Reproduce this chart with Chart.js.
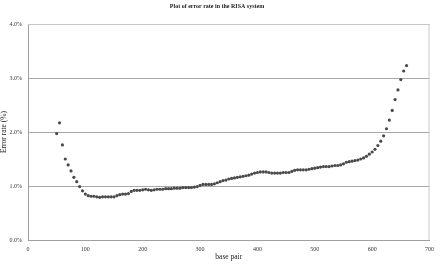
<!DOCTYPE html>
<html>
<head>
<meta charset="utf-8">
<script src="https://cdn.jsdelivr.net/npm/chart.js@4"></script>
<style>
  html, body { margin: 0; padding: 0; background: #fff; }
  #chart { display: block; }
</style>
</head>
<body>
<canvas id="chart" width="440" height="265"></canvas>
<script>
const basePair = [
  50, 55, 60, 65, 70, 75, 80, 85, 90, 95,
  100, 105, 110, 115, 120, 125, 130, 135, 140, 145,
  150, 155, 160, 165, 170, 175, 180, 185, 190, 195,
  200, 205, 210, 215, 220, 225, 230, 235, 240, 245,
  250, 255, 260, 265, 270, 275, 280, 285, 290, 295,
  300, 305, 310, 315, 320, 325, 330, 335, 340, 345,
  350, 355, 360, 365, 370, 375, 380, 385, 390, 395,
  400, 405, 410, 415, 420, 425, 430, 435, 440, 445,
  450, 455, 460, 465, 470, 475, 480, 485, 490, 495,
  500, 505, 510, 515, 520, 525, 530, 535, 540, 545,
  550, 555, 560, 565, 570, 575, 580, 585, 590, 595,
  600, 605, 610, 615, 620, 625, 630, 635, 640, 645,
  650, 655, 660,
];
const errorRate = [
  1.97, 2.17, 1.76, 1.50, 1.39, 1.28, 1.16, 1.08, 0.99, 0.91,
  0.85, 0.82, 0.81, 0.81, 0.80, 0.79, 0.80, 0.80, 0.80, 0.80,
  0.80, 0.82, 0.84, 0.85, 0.85, 0.86, 0.90, 0.92, 0.92, 0.92,
  0.93, 0.94, 0.93, 0.92, 0.93, 0.94, 0.94, 0.94, 0.95, 0.95,
  0.95, 0.96, 0.96, 0.96, 0.97, 0.97, 0.97, 0.97, 0.98, 0.99,
  1.01, 1.03, 1.03, 1.03, 1.03, 1.04, 1.06, 1.08, 1.10, 1.11,
  1.13, 1.14, 1.15, 1.16, 1.17, 1.18, 1.19, 1.20, 1.22, 1.24,
  1.25, 1.26, 1.26, 1.26, 1.25, 1.24, 1.24, 1.24, 1.24, 1.25,
  1.25, 1.25, 1.27, 1.29, 1.30, 1.30, 1.30, 1.30, 1.31, 1.32,
  1.33, 1.34, 1.35, 1.36, 1.36, 1.36, 1.37, 1.38, 1.38, 1.39,
  1.41, 1.44, 1.45, 1.46, 1.47, 1.48, 1.50, 1.52, 1.55, 1.59,
  1.63, 1.68, 1.75, 1.83, 1.93, 2.06, 2.22, 2.40, 2.60, 2.78,
  2.97, 3.13, 3.23,
];
const yTicks = [0, 1, 2, 3, 4];
const xTicks = [0, 100, 200, 300, 400, 500, 600, 700];

const points = basePair.map((bp, i) => ({ x: bp, y: errorRate[i] }));
const serif = "'Liberation Serif', 'DejaVu Serif', serif";

// light border on top and right of the plot area
const plotBorder = {
  id: "plotBorder",
  beforeDatasetsDraw(chart) {
    const { ctx, chartArea: a } = chart;
    ctx.save();
    ctx.strokeStyle = "#c8c8c8";
    ctx.lineWidth = 1;
    ctx.beginPath();
    ctx.moveTo(a.left, a.top + 0.5);
    ctx.lineTo(a.right - 0.5, a.top + 0.5);
    ctx.lineTo(a.right - 0.5, a.bottom);
    ctx.stroke();
    ctx.restore();
  },
};

new Chart(document.getElementById("chart"), {
  type: "scatter",
  data: {
    datasets: [
      {
        label: "error rate",
        data: points,
        pointStyle: "circle",
        pointRadius: 1.6,
        pointBackgroundColor: "#4a4a4a",
        pointBorderWidth: 0,
      },
    ],
  },
  options: {
    responsive: false,
    animation: false,
    layout: { padding: { left: 0, right: 6, top: 0, bottom: 0 } },
    plugins: {
      legend: { display: false },
      tooltip: { enabled: false },
      title: {
        display: true,
        text: "Plot of error rate in the RISA system",
        color: "#222",
        font: { family: serif, size: 6 },
        padding: { top: 3, bottom: 13.8 },
      },
    },
    scales: {
      x: {
        type: "linear",
        min: 0,
        max: 700,
        afterBuildTicks(scale) {
          scale.ticks = xTicks.map((v) => ({ value: v }));
        },
        afterFit(scale) {
          scale.height = 25;
        },
        grid: { display: false, drawTicks: false },
        border: { display: true, color: "#a0a0a0" },
        ticks: {
          color: "#333",
          padding: 6,
          maxRotation: 0,
          font: { family: serif, size: 6 },
        },
        title: {
          display: true,
          text: "base pair",
          color: "#222",
          padding: { top: 0, bottom: 3 },
          font: { family: serif, size: 7.5 },
        },
      },
      y: {
        min: 0,
        max: 4,
        afterBuildTicks(scale) {
          scale.ticks = yTicks.map((v) => ({ value: v }));
        },
        afterFit(scale) {
          scale.width = 28;
        },
        grid: { color: "#a8a8a8", drawTicks: false, lineWidth: 1 },
        border: { display: true, color: "#a0a0a0" },
        ticks: {
          color: "#333",
          padding: 6,
          font: { family: serif, size: 6 },
          callback: (v) => v.toFixed(1) + "%",
        },
        title: {
          display: true,
          text: "Error rate (%)",
          color: "#222",
          padding: { top: 0, bottom: 0 },
          font: { family: serif, size: 7.5 },
        },
      },
    },
  },
  plugins: [plotBorder],
});
</script>
</body>
</html>
